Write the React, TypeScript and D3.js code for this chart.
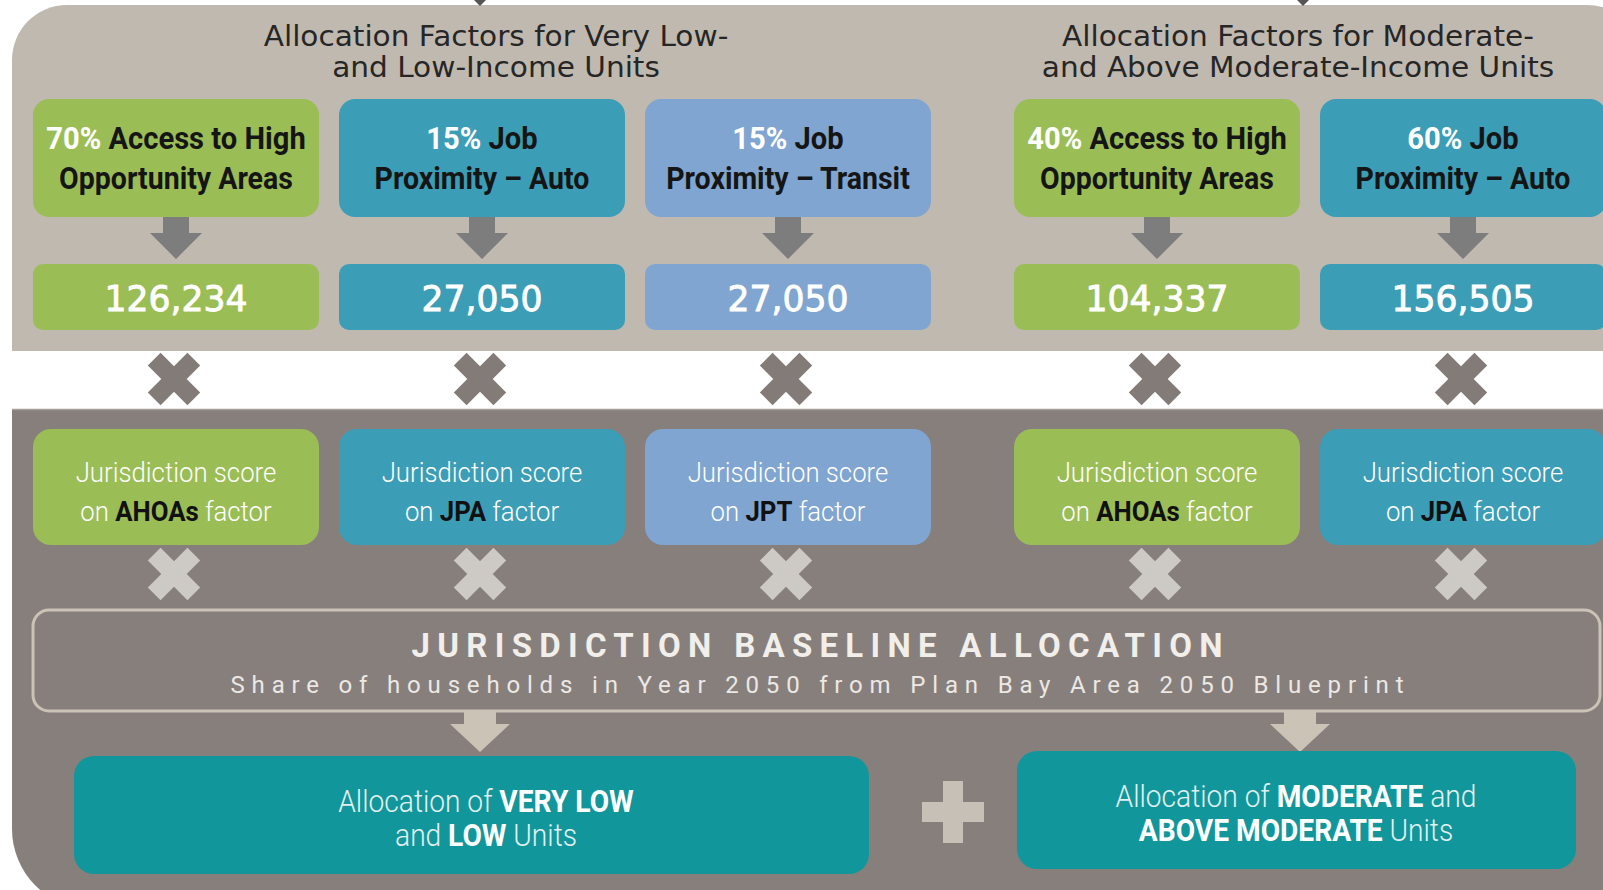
import React from 'react';
import * as d3 from 'd3';

// factor boxes, left to right
const factorGroup = ['low', 'low', 'low', 'mod', 'mod'];
const factorPct = ['70%', '15%', '15%', '40%', '60%'];
const factorHead = ['Access to High', 'Job', 'Job', 'Access to High', 'Job'];
const factorTail = ['Opportunity Areas', 'Proximity \u2013 Auto', 'Proximity \u2013 Transit', 'Opportunity Areas', 'Proximity \u2013 Auto'];
const factorUnits = [126234, 27050, 27050, 104337, 156505];
const factorCode = ['AHOAs', 'JPA', 'JPT', 'AHOAs', 'JPA'];
const factorKind = ['access', 'auto', 'transit', 'access', 'auto'];

const groupTitles = [
  ['Allocation Factors for Very Low-', 'and Low-Income Units'],
  ['Allocation Factors for Moderate-', 'and Above Moderate-Income Units'],
];

const baselineTitle = 'JURISDICTION BASELINE ALLOCATION';
const baselineSub = 'Share of households in Year 2050 from Plan Bay Area 2050 Blueprint';

type Seg = { t: string; b?: boolean };
const resultLines: Seg[][][] = [
  [
    [{ t: 'Allocation of ' }, { t: 'VERY LOW', b: true }],
    [{ t: 'and ' }, { t: 'LOW', b: true }, { t: ' Units' }],
  ],
  [
    [{ t: 'Allocation of ' }, { t: 'MODERATE', b: true }, { t: ' and' }],
    [{ t: 'ABOVE MODERATE', b: true }, { t: ' Units' }],
  ],
];

const kindColor = d3.scaleOrdinal<string, string>()
  .domain(['access', 'auto', 'transit'])
  .range(['#9bbd56', '#3c9db7', '#80a5d0']);

const fmt = d3.format(',');

const W = 1603;
const H = 890;
const COND = "Roboto, 'Liberation Sans', sans-serif";
const HUM = "'DejaVu Sans', Verdana, sans-serif";

// horizontal layout of the two factor groups
const xLow = d3.scaleBand<number>().domain([0, 1, 2]).range([33, 931]).paddingInner(20 / 306);
const xMod = d3.scaleBand<number>().domain([3, 4]).range([1014, 1606]).paddingInner(20 / 306);
const bx = (i: number) => (factorGroup[i] === 'low' ? xLow(i) : xMod(i)) || 0;
const bw = xLow.bandwidth();
const titleX = [496, 1298];

const resultBoxes = [
  { x: 74, y: 756, w: 795, h: 118, ax: 480, tx: 486 },
  { x: 1017, y: 751, w: 559, h: 118, ax: 1300, tx: 1296 },
];

const arrow = (cx: number, top: number, shaftW: number, headW: number, headY: number, tip: number) => {
  const p = d3.path();
  p.moveTo(cx - shaftW / 2, top);
  p.lineTo(cx + shaftW / 2, top);
  p.lineTo(cx + shaftW / 2, headY);
  p.lineTo(cx + headW / 2, headY);
  p.lineTo(cx, tip);
  p.lineTo(cx - headW / 2, headY);
  p.lineTo(cx - shaftW / 2, headY);
  p.closePath();
  return p.toString();
};

const cross = (cx: number, cy: number, len: number, arm: number, fill: string, rot: number) => (
  <g transform={`translate(${cx},${cy}) rotate(${rot})`}>
    <rect x={-len / 2} y={-arm / 2} width={len} height={arm} fill={fill} />
    <rect x={-arm / 2} y={-len / 2} width={arm} height={len} fill={fill} />
  </g>
);

const Txt: React.FC<{ x: number; y: number; sx?: number; size: number; family: string; fill?: string; weight?: any; children: any; textLength?: number; stroke?: string; sw?: number }> = ({ x, y, sx = 1, size, family, fill = '#fff', weight = 400, children, textLength, stroke, sw }) => (
  <text
    transform={`translate(${x},${y}) scale(${sx},1)`}
    textAnchor="middle"
    fontFamily={family}
    fontSize={size}
    fontWeight={weight}
    fill={fill}
    stroke={stroke}
    strokeWidth={sw}
    textLength={textLength}
    lengthAdjust={textLength ? 'spacing' : undefined}
  >
    {children}
  </text>
);

const App: React.FC = () => {
  const idx = d3.range(factorPct.length);
  return (
    <svg width={W} height={H} style={{ position: 'absolute', left: 0, top: 0, background: '#fff' }}>
      {/* top panel */}
      <rect x={12} y={5} width={1630} height={400} rx={55} fill="#c0b9b0" />
      <rect x={12} y={351} width={1660} height={58} fill="#fff" />
      {/* bottom panel */}
      <rect x={12} y={409} width={1630} height={500} rx={80} fill="#877f7c" />
      <rect x={12} y={409} width={1630} height={100} fill="#877f7c" />
      <line x1={12} x2={1660} y1={409.5} y2={409.5} stroke="#a59e99" strokeWidth={1.5} />

      {/* small incoming arrow tips at the top edge */}
      {titleX.map((_, g) => {
        const cx = g === 0 ? 480 : 1303;
        return <path key={g} d={`M${cx - 6},0L${cx + 6},0L${cx},6Z`} fill="#555" />;
      })}

      {/* group titles */}
      {groupTitles.map((lines, g) => (
        <g key={g}>
          {lines.map((l, k) => (
            <Txt key={k} x={titleX[g]} y={46 + k * 31} size={29} family={HUM} fill="#262626" sx={1.02}>
              {l}
            </Txt>
          ))}
        </g>
      ))}

      {idx.map(i => {
        const x = bx(i);
        const cx = x + bw / 2;
        const col = kindColor(factorKind[i]);
        return (
          <g key={i}>
            {/* factor header box */}
            <rect x={x} y={99} width={bw} height={118} rx={16} fill={col} />
            <Txt x={cx} y={149} size={31} family={COND} weight={700} fill="#151515" sx={0.94}>
              <tspan fill="#fff">{factorPct[i]}</tspan>
              <tspan>{' ' + factorHead[i]}</tspan>
            </Txt>
            <Txt x={cx} y={189} size={31} family={COND} weight={700} fill="#151515" sx={0.92}>
              {factorTail[i]}
            </Txt>
            <path d={arrow(cx, 217, 26, 52, 233, 259)} fill="#7d7d7d" />
            {/* unit totals */}
            <rect x={x} y={264} width={bw} height={66} rx={10} fill={col} />
            <Txt x={cx} y={311} size={36} family={HUM} weight={400} fill="#fff" stroke="#fff" sw={0.9} sx={0.96}>
              {fmt(factorUnits[i])}
            </Txt>
            {cross(cx - 2, 379, 56, 18, '#837b78', 45)}
            {/* jurisdiction score box */}
            <rect x={x} y={429} width={bw} height={116} rx={18} fill={col} />
            <Txt x={cx} y={482} size={28} family={COND} weight={300} fill="#fff" sx={0.92}>
              Jurisdiction score
            </Txt>
            <Txt x={cx} y={521} size={28} family={COND} weight={300} fill="#fff" sx={0.92}>
              {'on '}
              <tspan fill="#111" fontWeight={700}>{factorCode[i]}</tspan>
              {' factor'}
            </Txt>
            {cross(cx - 2, 574, 56, 18, '#cdc9c5', 45)}
          </g>
        );
      })}

      {/* baseline allocation */}
      <rect x={33} y={610} width={1567} height={101} rx={16} fill="none" stroke="#cbc3b6" strokeWidth={3} />
      <Txt x={817} y={657} size={33} family={COND} weight={700} fill="#f2efeb" textLength={811}>
        {baselineTitle}
      </Txt>
      <Txt x={817} y={693} size={24} family={COND} weight={400} fill="#ece8e4" textLength={1173}>
        {baselineSub}
      </Txt>

      {/* results */}
      {resultBoxes.map((b, g) => (
        <g key={g}>
          <path d={arrow(b.ax, 712, 32, 60, 724, 752)} fill="#cbc3b6" />
          <rect x={b.x} y={b.y} width={b.w} height={b.h} rx={20} fill="#11979b" />
          {resultLines[g].map((line, k) => (
            <Txt key={k} x={b.tx} y={b.y + 56 + k * 34} size={32} family={COND} fill="#eef6f6" sx={0.88}>
              {line.map((s, j) => (
                <tspan key={j} fontWeight={s.b ? 700 : 300} fill={s.b ? '#fff' : '#e4f0f0'}>{s.t}</tspan>
              ))}
            </Txt>
          ))}
        </g>
      ))}

      {/* plus between the two results */}
      {cross(953, 812, 62, 20, '#c7c0b6', 0)}
    </svg>
  );
};

export default App;
